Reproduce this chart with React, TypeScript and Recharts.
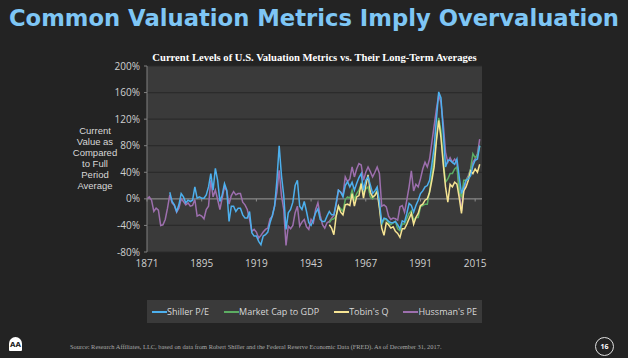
import * as React from 'react'
import {
	LineChart,
	Line,
	XAxis,
	YAxis,
	CartesianGrid,
	ReferenceLine,
} from 'recharts'

// years covered by the chart
const firstYear = 1871
const lastYear = 2017
const xTicks = [1871, 1895, 1919, 1943, 1967, 1991, 2015]
const yTicks = [-80, -40, 0, 40, 80, 120, 160, 200]

// % above / below full-period average, one value per year
const hussmanStart = 1871
const hussmanPE = [
	0, 3, -2, -19, -14, -17, -40, -39, -31, -14,
	6, -6, -10, -20, -14, 0, -4, -9, -6, -11,
	-10, -1, -26, -24, -26, -30, -16, -11, 28, 3,
	13, -1, -16, 1, 18, 12, -8, 5, 11, 6,
	8, 8, -5, -9, -16, -31, -49, -46, -50, -59,
	-55, -50, -46, -44, -30, -26, -10, 10, 43, 5,
	-16, -70, -41, -45, -40, -21, -11, -41, -35, -31,
	-42, -46, -31, -36, -16, -6, -25, -39, -44, -36,
	-34, -29, -25, -9, 13, 10, 6, 33, 26, 30,
	48, 33, 45, 53, 51, 28, 40, 48, 41, 33,
	40, 48, 38, -11, -9, -12, -26, -31, -29, -30,
	-32, -12, -10, -20, -2, 18, 42, 12, 22, 18,
	30, 45, 55, 48, 60, 85, 110, 135, 156, 145,
	113, 70, 55, 62, 55, 60, 55, 12, -18, 12,
	28, 35, 45, 55, 60, 68, 90,
]

const shillerStart = 1881
const shillerPE = [
	10, -4, -9, -19, -9, 8, 3, -6, -2, -4,
	-2, 18, 1, 3, 1, 1, 6, 18, 38, 13,
	46, 28, -4, 6, 23, 13, -34, -11, -11, -19,
	-14, -14, -24, -29, -29, -19, -51, -56, -56, -64,
	-69, -56, -54, -50, -36, -25, -11, 28, 80, 35,
	5, -46, -21, -16, -5, 20, 28, -11, -16, -4,
	-19, -36, -40, -31, -21, -15, -31, -34, -34, -26,
	-19, -24, -24, -6, 13, 10, 3, 20, 26, 18,
	25, 13, 23, 32, 38, 13, 28, 33, 21, 8,
	12, 18, -5, -36, -29, -30, -34, -36, -36, -34,
	-39, -45, -33, -35, -22, -7, -10, -20, -10, -2,
	8, 12, 18, 20, 28, 52, 78, 120, 161, 152,
	100, 48, 58, 58, 55, 52, 60, 33, 8, 18,
	28, 30, 35, 50, 58, 60, 80,
]

const marketCapStart = 1951
const marketCapGdp = [
	-36, -31, -30, -26, -11, -15, -19, -1, 3, 1,
	13, -1, 8, 13, 23, 8, 15, 18, 3, 0,
	6, 13, -11, -39, -31, -31, -36, -39, -36, -34,
	-45, -48, -38, -38, -30, -22, -18, -32, -28, -28,
	-12, -10, -8, -8, 12, 35, 62, 90, 122, 102,
	58, 25, 30, 38, 38, 45, 48, 12, 2, 28,
	28, 32, 45, 68, 62, 65, 80,
]

const tobinStart = 1951
const tobinsQ = [
	-39, -44, -54, -26, -11, -20, -24, -9, -8, -10,
	8, -11, 3, 5, 23, 1, 20, 36, 10, 3,
	5, 11, -14, -44, -55, -36, -39, -44, -42, -49,
	-52, -58, -45, -45, -38, -30, -22, -38, -28, -22,
	-10, -8, -2, 0, 10, 28, 48, 88, 118, 92,
	52, 18, -5, 22, 18, 25, 22, 2, -22, 12,
	18, 28, 42, 38, 45, 40, 52,
]

const series = [
	{ key: 'shiller', name: 'Shiller P/E', color: '#4db0ee', start: shillerStart, values: shillerPE },
	{ key: 'mcap', name: 'Market Cap to GDP', color: '#5cad62', start: marketCapStart, values: marketCapGdp },
	{ key: 'tobin', name: "Tobin's Q", color: '#f6e493', start: tobinStart, values: tobinsQ },
	{ key: 'hussman', name: "Hussman's PE", color: '#9d6fae', start: hussmanStart, values: hussmanPE },
]

// draw order: Hussman at the back, Shiller in front
const drawOrder = ['hussman', 'mcap', 'tobin', 'shiller']

const rows: Record<string, number | null>[] = []
for (let y = firstYear; y <= lastYear; y++) {
	const row: Record<string, number | null> = { year: y }
	series.forEach((s) => {
		const v = s.values[y - s.start]
		row[s.key] = v === undefined ? null : v
	})
	rows.push(row)
}

const axisText = { fill: '#d0d0d0', fontSize: 10, fontFamily: '"Open Sans", sans-serif' }

const yLabelLines = ['Current', 'Value as', 'Compared', 'to Full', 'Period', 'Average']

const ChartLegend = () => (
	<div
		style={{
			position: 'absolute',
			zIndex: 2,
			left: 147,
			top: 300,
			width: 335,
			height: 23,
			background: '#3a3a3a',
			display: 'flex',
			alignItems: 'center',
			justifyContent: 'center',
			gap: 15,
			fontSize: 9,
			color: '#d8d8d8',
			whiteSpace: 'nowrap',
		}}
	>
		{series.map((s) => (
			<div key={s.key} style={{ display: 'flex', alignItems: 'center', flexShrink: 0 }}>
				<span style={{ display: 'inline-block', width: 15, height: 2, background: s.color }} />
				<span>{s.name}</span>
			</div>
		))}
	</div>
)

export default function App() {
	return (
		<div
			style={{
				position: 'fixed',
				left: 0,
				top: 0,
				width: 628,
				height: 358,
				background: '#232323',
				overflow: 'hidden',
				fontFamily: '"Open Sans", sans-serif',
			}}
		>
			<div
				style={{
					position: 'absolute',
					top: 5,
					left: 0,
					width: 628,
					textAlign: 'center',
					fontFamily: '"DejaVu Sans", sans-serif',
					fontWeight: 'bold',
					fontSize: 22.7,
					color: '#7ec6f5',
					whiteSpace: 'nowrap',
				}}
			>
				Common Valuation Metrics Imply Overvaluation
			</div>
			<div
				style={{
					position: 'absolute',
					top: 52,
					left: 147,
					width: 335,
					textAlign: 'center',
					fontFamily: '"Liberation Serif", serif',
					fontWeight: 'bold',
					fontSize: 10.6,
					color: '#ffffff',
					whiteSpace: 'nowrap',
				}}
			>
				Current Levels of U.S. Valuation Metrics vs. Their Long-Term Averages
			</div>
			{yLabelLines.map((t, i) => (
				<div
					key={t}
					style={{
						position: 'absolute',
						top: 125 + i * 11,
						left: 60,
						width: 70,
						height: 11,
						textAlign: 'center',
						fontFamily: '"Liberation Sans", sans-serif',
						fontSize: 9.5,
						lineHeight: '11px',
						color: '#d8d8d8',
					}}
				>
					{t}
				</div>
			))}

			<div style={{ position: 'absolute', left: 0, top: 0 }}>
				<LineChart
					width={628}
					height={358}
					data={rows}
					margin={{ top: 66, right: 146, bottom: 86, left: 0 }}
				>
					<CartesianGrid vertical={false} stroke="#2b2b2b" strokeWidth={1.2} fill="#3a3a3a" />
					<XAxis
						type="number"
						dataKey="year"
						domain={[firstYear, 2018]}
						ticks={xTicks}
						axisLine={false}
						tickLine={false}
						tickSize={0}
						tickMargin={8}
						height={20}
						tick={axisText}
						interval={0}
					/>
					<YAxis
						width={147}
						domain={[-80, 200]}
						ticks={yTicks}
						interval={0}
						tickFormatter={(v: number) => `${v}%`}
						axisLine={{ stroke: '#808080' }}
						tickLine={{ stroke: '#808080' }}
						tickSize={3}
						tickMargin={4}
						tick={axisText}
					/>
					<ReferenceLine y={0} stroke="#8c8c8c" strokeWidth={1.3} />
					{xTicks.map((t) => (
						<ReferenceLine
							key={t}
							segment={[
								{ x: t, y: 0 },
								{ x: t, y: -4 },
							]}
							stroke="#8c8c8c"
						/>
					))}
					{drawOrder.map((k) => {
						const s = series.find((d) => d.key === k)!
						return (
							<Line
								key={s.key}
								type="linear"
								dataKey={s.key}
								name={s.name}
								stroke={s.color}
								strokeWidth={1.5}
								dot={false}
								isAnimationActive={false}
							/>
						)
					})}
				</LineChart>
			</div>

			<ChartLegend />

			<div
				style={{
					position: 'absolute',
					left: 9,
					top: 337,
					width: 13,
					height: 14,
					background: '#ffffff',
					borderRadius: '7px 7px 1px 1px',
					color: '#232323',
					fontSize: 7,
					fontWeight: 'bold',
					textAlign: 'center',
					lineHeight: '16px',
					fontFamily: '"DejaVu Sans", sans-serif',
				}}
			>
				AA
			</div>
			<div
				style={{
					position: 'absolute',
					left: 70,
					top: 343,
					fontFamily: '"Liberation Serif", serif',
					fontSize: 6.4,
					color: '#a8a8a8',
					whiteSpace: 'nowrap',
				}}
			>
				Source: Research Affiliates, LLC, based on data from Robert Shiller and the Federal Reserve Economic Data (FRED). As of December 31, 2017.
			</div>
			<div
				style={{
					position: 'absolute',
					left: 595,
					top: 337,
					width: 17,
					height: 17,
					borderRadius: '50%',
					border: '1px solid #e0e0e0',
					color: '#ffffff',
					fontSize: 7,
					fontWeight: 'bold',
					textAlign: 'center',
					lineHeight: '17px',
				}}
			>
				16
			</div>
		</div>
	)
}
